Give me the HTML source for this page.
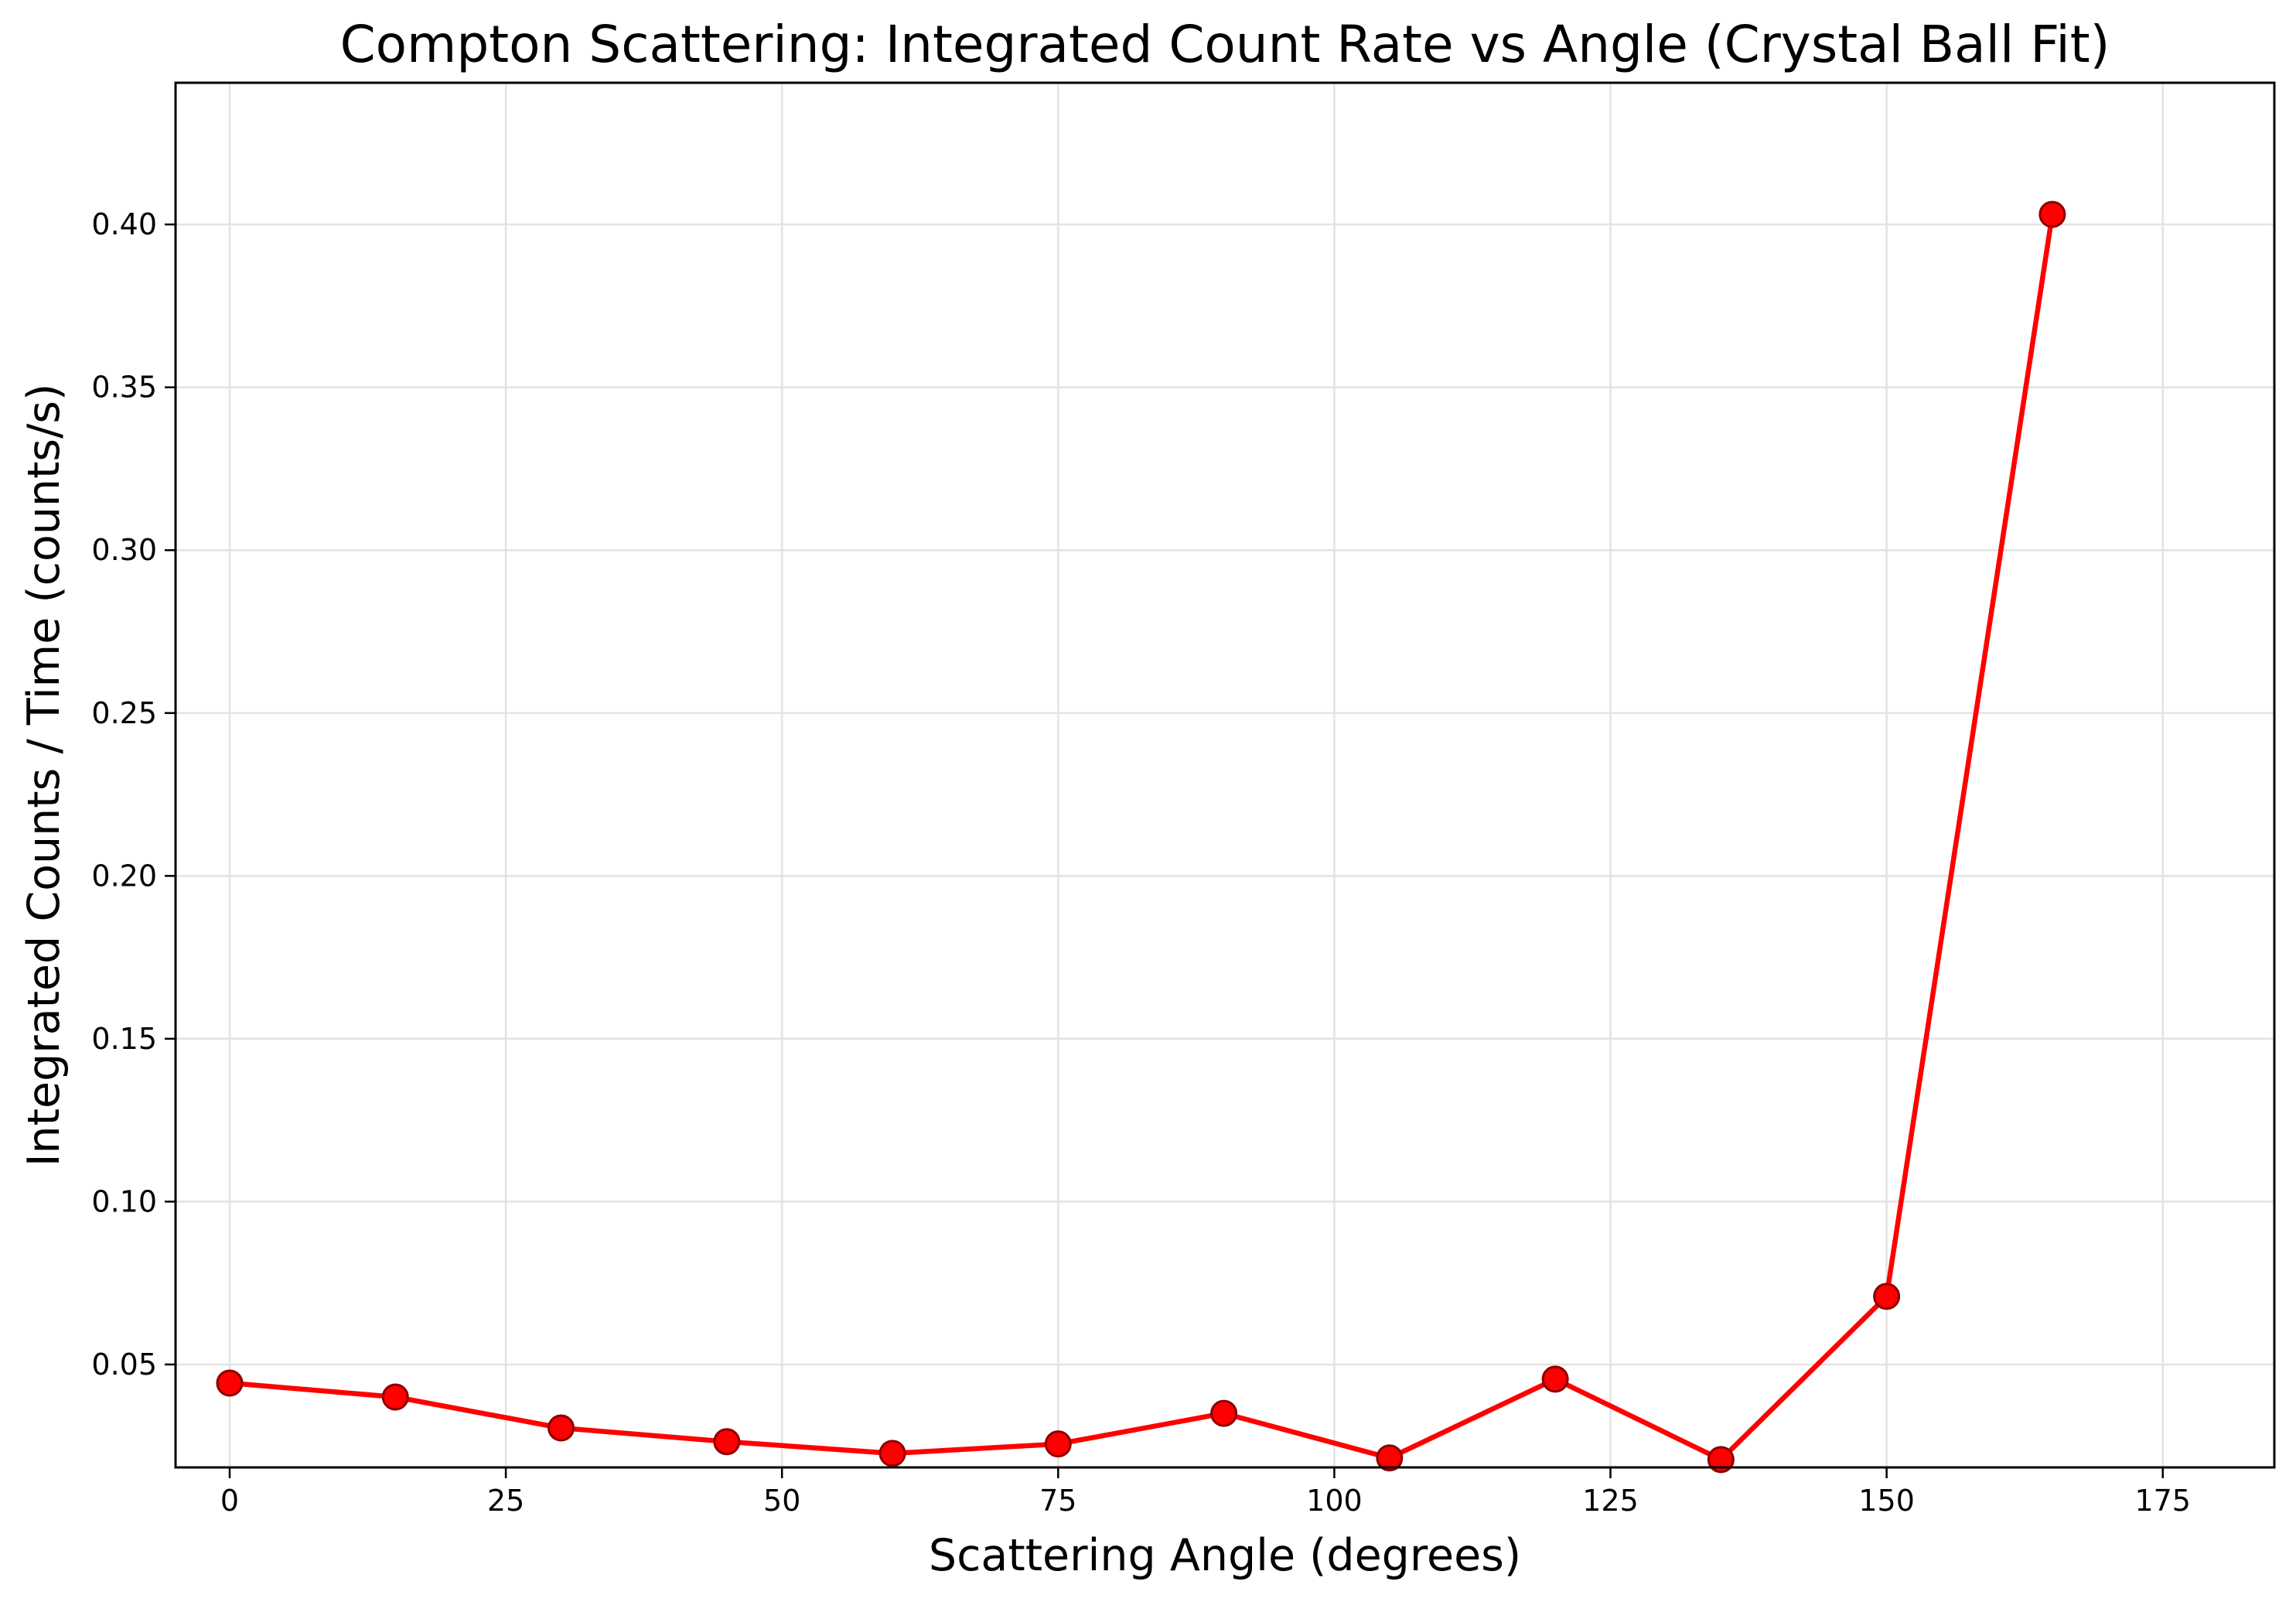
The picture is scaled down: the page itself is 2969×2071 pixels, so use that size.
<!DOCTYPE html>
<html><head><meta charset="utf-8"><style>
html,body{margin:0;padding:0;background:#fff;}
svg{display:block;font-family:"DejaVu Sans","Liberation Sans",sans-serif;}
</style></head><body>
<svg id="chart" width="2969" height="2071" viewBox="0 0 2969 2071" xmlns="http://www.w3.org/2000/svg">
<rect width="2969" height="2071" fill="#fff"/>
<g id="grid"></g>
<g id="ticks"></g>
<g id="series"></g>
<rect x="227" y="107" width="2714" height="1790" fill="none" stroke="#000" stroke-width="3"/>
<text x="1584" y="80" font-size="66" text-anchor="middle">Compton Scattering: Integrated Count Rate vs Angle (Crystal Ball Fit)</text>
<text x="1584" y="2030" font-size="57" text-anchor="middle">Scattering Angle (degrees)</text>
<text transform="translate(76,1002) rotate(-90)" font-size="57" text-anchor="middle">Integrated Counts / Time (counts/s)</text>
</svg>
<script>
const angles = [0, 15, 30, 45, 60, 75, 90, 105, 120, 135, 150, 165];
const rates = [0.0443, 0.0400, 0.0305, 0.0263, 0.0227, 0.0256, 0.0350, 0.0213, 0.0455, 0.0208, 0.0709, 0.4031];
const xTicks = [0, 25, 50, 75, 100, 125, 150, 175];
const yTicks = [0.05, 0.10, 0.15, 0.20, 0.25, 0.30, 0.35, 0.40];
const xDomain = [-4.9, 185.1];
const yDomain = [0.0184, 0.4435];

const L = 227, R = 2941, T = 107, B = 1897;
const NS = 'http://www.w3.org/2000/svg';
function sx(v){ return L + (v - xDomain[0]) / (xDomain[1] - xDomain[0]) * (R - L); }
function sy(v){ return B - (v - yDomain[0]) / (yDomain[1] - yDomain[0]) * (B - T); }
function mk(tag, attrs, parent){
  const e = document.createElementNS(NS, tag);
  for (const k in attrs) e.setAttribute(k, attrs[k]);
  parent.appendChild(e);
  return e;
}
const grid = document.getElementById('grid');
const ticks = document.getElementById('ticks');
const series = document.getElementById('series');

xTicks.forEach(t => {
  const x = sx(t);
  const g = mk('line', {x1:x, x2:x, y1:T, y2:B, stroke:'#e3e3e3', 'stroke-width':2.5}, grid);
  
  
  const tk = mk('line', {x1:x, x2:x, y1:B, y2:B+14, stroke:'#000', 'stroke-width':2.5}, ticks);
  
  
  const lb = mk('text', {x:x, y:B+56, 'font-size':38, 'text-anchor':'middle'}, ticks);
  lb.textContent = String(t);
  
  
});
yTicks.forEach(t => {
  const y = sy(t);
  const g = mk('line', {x1:L, x2:R, y1:y, y2:y, stroke:'#e3e3e3', 'stroke-width':2.5}, grid);
  
  
  const tk = mk('line', {x1:L-14, x2:L, y1:y, y2:y, stroke:'#000', 'stroke-width':2.5}, ticks);
  
  
  const lb = mk('text', {x:L-24, y:y+13, 'font-size':38, 'text-anchor':'end'}, ticks);
  lb.textContent = t.toFixed(2);
  
  
});

const pts = angles.map((a, i) => sx(a).toFixed(1) + ',' + sy(rates[i]).toFixed(1)).join(' ');
const line = mk('polyline', {points:pts, fill:'none', stroke:'#ff0000', 'stroke-width':6.5, 'stroke-linejoin':'round'}, series);


angles.forEach((a, i) => {
  const c = mk('circle', {cx:sx(a), cy:sy(rates[i]), r:16, fill:'#ff0000', stroke:'#8b0000', 'stroke-width':3}, series);
  
  
});
</script>
</body></html>
